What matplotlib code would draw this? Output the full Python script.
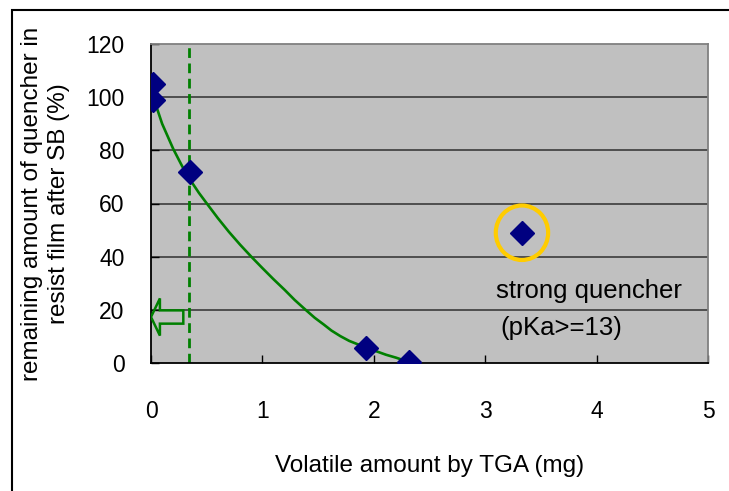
import matplotlib
matplotlib.use("Agg")
import matplotlib.pyplot as plt
from matplotlib.patches import Ellipse, FancyArrow, Rectangle

plt.rcParams["font.family"] = ["Liberation Sans", "DejaVu Sans"]

# measured points (TGA volatile amount vs remaining quencher)
tga_mg = [0.02, 0.02, 0.35, 1.93, 2.32, 3.33]
remaining_pct = [105, 99, 72, 5.5, 0.5, 49]

# trend line
fit_x = [0.02, 0.10, 0.20, 0.28, 0.35, 0.43, 0.51, 0.60, 0.70, 0.80, 0.90,
         1.00, 1.10, 1.20, 1.29, 1.38, 1.47, 1.55, 1.62, 1.70, 1.78, 1.87,
         1.95, 2.03, 2.11, 2.20, 2.27, 2.34]
fit_y = [100, 90, 80.5, 74, 69, 64, 59.5, 54.5, 49.3, 44.5, 40,
         35.7, 31.5, 27.5, 23.7, 20.3, 17, 14.5, 12.2, 10.1, 8.3, 6.8,
         5.5, 4.3, 3.1, 2.0, 1.0, 0.0]

threshold_x = 0.34
outlier = (3.33, 49)

x_ticks = [0, 1, 2, 3, 4, 5]
y_ticks = [0, 20, 40, 60, 80, 100, 120]

fig = plt.figure(figsize=(7.29, 4.91), dpi=100)
ax = fig.add_axes([151 / 729, 1 - 363 / 491, (708 - 151) / 729, (363 - 44) / 491])
ax.set_facecolor("#C0C0C0")

# outer frame (only top and left edges visible)
fig.patches.append(Rectangle((12 / 729, -0.1), 1.2, 1 - 10 / 491 + 0.1,
                             transform=fig.transFigure, fill=False,
                             edgecolor="black", linewidth=1.5))

for yv in y_ticks[1:-1]:
    ax.axhline(yv, color="#303030", linewidth=1.1, zorder=1)

ax.plot(fit_x, fit_y, color="#008000", linewidth=1.9, zorder=3)
ax.plot(tga_mg, remaining_pct, linestyle="none", marker="D", markersize=12,
        color="#000080", zorder=4)
ax.axvline(threshold_x, color="#008000", linewidth=2, linestyle=(0, (3.5, 2)), zorder=2)

ax.add_patch(FancyArrow(0.29, 17.3, -0.21, 0, width=5, head_width=14,
                        head_length=0.08, fill=False, edgecolor="#008000",
                        linewidth=1.8, zorder=3))

circle = Ellipse(outlier, width=0.47, height=20.5, fill=False,
                 edgecolor="#FFCC00", linewidth=3, zorder=3)
ax.add_patch(circle)

ax.text(3.1, 27, "strong quencher", fontsize=18.5, ha="left", va="center")
ax.text(3.14, 13, "(pKa>=13)", fontsize=18.5, ha="left", va="center")

ax.set_xlim(0, 5)
ax.set_ylim(0, 120)
ax.set_xticks(x_ticks)
ax.set_yticks(y_ticks)
ax.tick_params(direction="in", length=6, labelsize=16.5, width=1)
ax.tick_params(axis="x", pad=27)
ax.tick_params(axis="y", pad=19)
for side in ["left", "bottom"]:
    ax.spines[side].set_color("black")
    ax.spines[side].set_linewidth(1.3)
for side in ["top", "right"]:
    ax.spines[side].set_color("#808080")
    ax.spines[side].set_linewidth(1.3)

ax.set_xlabel("Volatile amount by TGA (mg)", fontsize=17.5, labelpad=23)
ax.set_ylabel("remaining amount of quencher in\nresist film after SB (%)",
              fontsize=17.5, labelpad=12, linespacing=1.25)

fig.savefig("out.png", dpi=100)
